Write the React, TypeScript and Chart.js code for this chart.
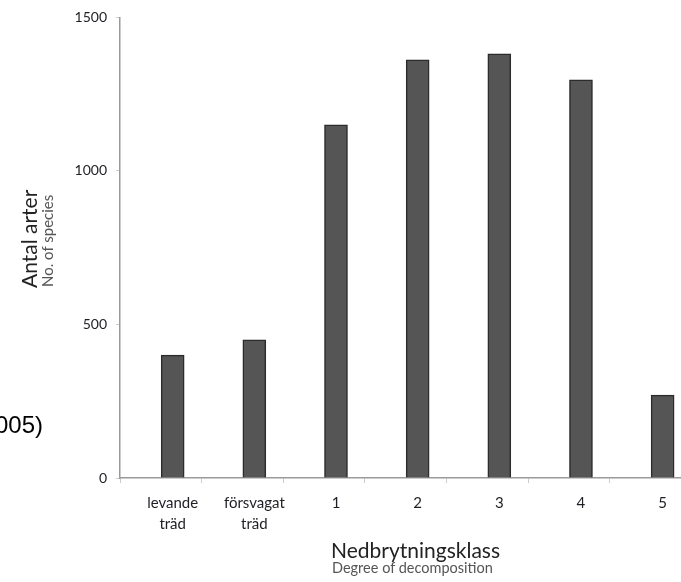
import React, { useEffect, useRef } from 'react';
import { Chart, registerables } from 'chart.js';

Chart.register(...registerables);

// ---- data ----
const CATEGORIES: (string | string[])[] = [
  ['levande', 'träd'],
  ['försvagat', 'träd'],
  '1',
  '2',
  '3',
  '4',
  '5',
];
const SPECIES: number[] = [400, 450, 1150, 1362, 1381, 1297, 270];
const Y_TICKS: number[] = [0, 500, 1000, 1500];

const Y_TITLE = 'Antal arter';
const Y_SUBTITLE = 'No. of species';
const X_TITLE = 'Nedbrytningsklass';
const X_SUBTITLE = 'Degree of decomposition';
const SIDE_TEXT = '005)';

// ---- layout / style constants ----
const FONT = 'Lato, "Open Sans", sans-serif';
const BAR_OFFSET = 0.645; // bar position inside each category slot
const X_MAX = 6.87; // visible portion of the category range

export default function App() {
  const ref = useRef<HTMLCanvasElement>(null);

  useEffect(() => {
    const chart = new Chart(ref.current as HTMLCanvasElement, {
      type: 'bar',
      data: {
        datasets: [
          {
            data: SPECIES.map((v, i) => ({ x: i + BAR_OFFSET, y: v })),
            backgroundColor: '#555555',
            borderColor: '#2b2b2b',
            borderWidth: 1.5,
            barThickness: 23,
          } as any,
        ],
      },
      options: {
        responsive: false,
        animation: false,
        layout: { padding: { top: 16, left: 0, right: 0, bottom: 0 } },
        plugins: { legend: { display: false }, tooltip: { enabled: false } },
        scales: {
          x: {
            type: 'linear',
            position: 'bottom',
            offset: false,
            min: 0,
            max: X_MAX,
            weight: 1,
            grid: { display: false, offset: false },
            border: { display: false },
            afterBuildTicks: (s: any) => {
              s.ticks = CATEGORIES.map((_, i) => ({ value: i + BAR_OFFSET }));
            },
            ticks: {
              autoSkip: false,
              maxRotation: 0,
              padding: 0,
              color: '#1e1e24',
              font: { family: FONT, size: 15, lineHeight: 1.45 },
              callback: (_v: any, i: number) => CATEGORIES[i] as any,
            },
            afterFit: (s: any) => {
              s.height = 98;
            },
          } as any,
          xTicks: {
            type: 'linear',
            position: 'bottom',
            offset: false,
            min: 0,
            max: X_MAX,
            weight: 0,
            ticks: { display: false, stepSize: 1 },
            grid: { drawOnChartArea: false, offset: false, tickLength: 5, color: '#cccccc' },
            border: { display: true, color: '#9a9a9a', width: 1.5 },
            afterFit: (s: any) => {
              s.height = 6;
            },
          } as any,
          y: {
            type: 'linear',
            min: 0,
            max: 1500,
            afterBuildTicks: (s: any) => {
              s.ticks = Y_TICKS.map((value) => ({ value }));
            },
            ticks: {
              padding: 9,
              color: '#1e1e24',
              font: { family: FONT, size: 14 },
              callback: (v: any) => String(v),
            },
            grid: { drawOnChartArea: false, tickLength: 4, color: '#cccccc' },
            border: { color: '#9a9a9a', width: 1.5 },
            afterFit: (s: any) => {
              s.width = 120;
            },
          } as any,
        },
      },
    });
    return () => chart.destroy();
  }, []);

  const base: React.CSSProperties = {
    position: 'absolute',
    whiteSpace: 'nowrap',
    fontFamily: FONT,
  };

  return (
    <div style={{ position: 'absolute', left: 0, top: 0, width: 681, height: 582, overflow: 'hidden', background: '#ffffff' }}>
      <canvas ref={ref} width={681} height={582} style={{ position: 'absolute', left: 0, top: 0, display: 'block' }} />
      <div
        style={{
          ...base,
          left: 18,
          top: 288,
          fontSize: 21,
          lineHeight: '21px',
          color: '#222222',
          transformOrigin: '0 0',
          transform: 'rotate(-90deg)',
        }}
      >
        {Y_TITLE}
      </div>
      <div
        style={{
          ...base,
          left: 40,
          top: 287,
          fontSize: 15,
          lineHeight: '15px',
          color: '#555555',
          transformOrigin: '0 0',
          transform: 'rotate(-90deg)',
        }}
      >
        {Y_SUBTITLE}
      </div>
      <div style={{ ...base, left: 331, top: 539, fontSize: 21, lineHeight: '21px', color: '#222222' }}>{X_TITLE}</div>
      <div style={{ ...base, left: 332, top: 561, fontSize: 14.5, lineHeight: '14px', color: '#555555' }}>{X_SUBTITLE}</div>
      <div
        style={{
          ...base,
          left: -5,
          top: 413,
          fontSize: 24,
          lineHeight: '24px',
          color: '#000000',
          fontFamily: '"Liberation Sans", Arial, sans-serif',
        }}
      >
        {SIDE_TEXT}
      </div>
    </div>
  );
}
